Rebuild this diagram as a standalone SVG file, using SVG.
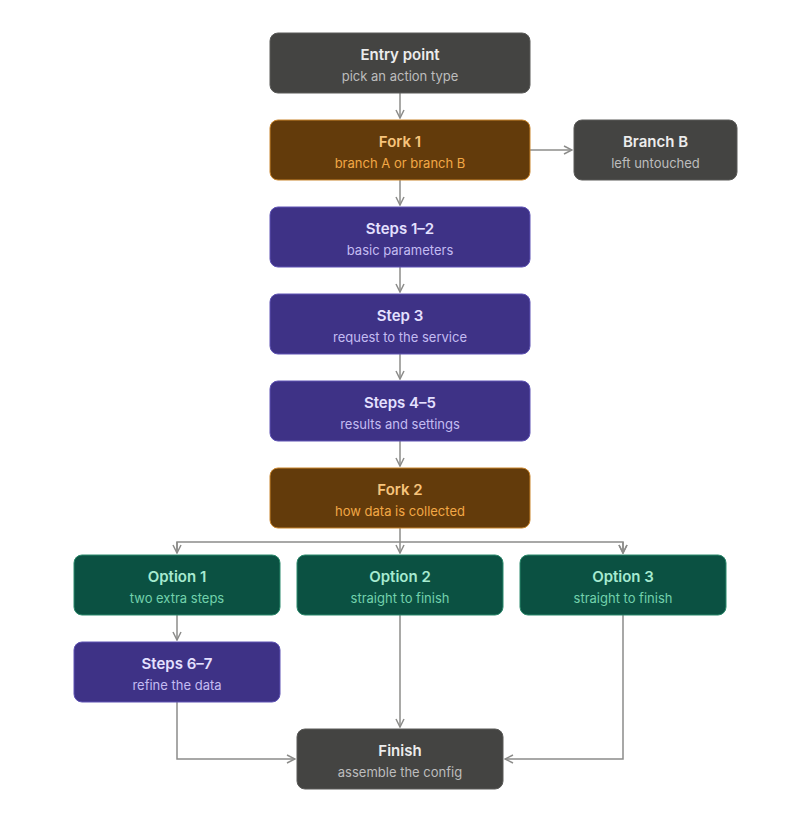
<svg xmlns="http://www.w3.org/2000/svg" width="800" height="815" viewBox="0 0 800 815">
<style>
text{font-family:Inter,"Noto Sans",sans-serif;text-anchor:middle}
.t{font-size:15px;font-weight:600}
.s{font-size:13px}
.g rect{fill:#444442;stroke:#5a5a58}
.g .t{fill:#ececec}.g .s{fill:#bdbdbd}
.f rect{fill:#633b0b;stroke:#c9852c}
.f .t{fill:#f7c47c}.f .s{fill:#f2a846}
.p rect{fill:#3e3286;stroke:#5e52b4}
.p .t{fill:#e4e0ff}.p .s{fill:#c4bcf2}
.e rect{fill:#0b5142;stroke:#2b8a6c}
.e .t{fill:#a6ead0}.e .s{fill:#72d2ac}
#c path{fill:none;stroke:#8c8c8a;stroke-width:1.5}
</style>
<defs><marker id="a" viewBox="0 0 10 10" refX="9" refY="5" markerWidth="10" markerHeight="10" markerUnits="userSpaceOnUse" orient="auto"><path d="M1,1 L9,5 L1,9" fill="none" stroke="#8c8c8a" stroke-width="1.5"/></marker></defs>
<g id="c">
<path d="M400,93V118" marker-end="url(#a)"/>
<path d="M530,150H572" marker-end="url(#a)"/>
<path d="M400,180V205" marker-end="url(#a)"/>
<path d="M400,267V292" marker-end="url(#a)"/>
<path d="M400,354V379" marker-end="url(#a)"/>
<path d="M400,441V466" marker-end="url(#a)"/>
<path d="M400,528V553" marker-end="url(#a)"/>
<path d="M177,553V542H623V553" marker-end="url(#a)"/>
<path d="M177,542V553" marker-end="url(#a)"/>
<path d="M623,542V553" marker-end="url(#a)"/>
<path d="M177,615V640" marker-end="url(#a)"/>
<path d="M400,615V727" marker-end="url(#a)"/>
<path d="M177,702V759H295" marker-end="url(#a)"/>
<path d="M623,615V759H505" marker-end="url(#a)"/>
</g>
<g id="entry" class="g"><rect x="270" y="33" width="260" height="60" rx="8"/><text class="t" x="400" y="60">Entry point</text><text class="s" x="400" y="81">pick an action type</text></g>
<g id="fork1" class="f"><rect x="270" y="120" width="260" height="60" rx="8"/><text class="t" x="400" y="147">Fork 1</text><text class="s" x="400" y="168">branch A or branch B</text></g>
<g id="branchb" class="g"><rect x="574" y="120" width="163" height="60" rx="8"/><text class="t" x="655.500" y="147">Branch B</text><text class="s" x="655.500" y="168">left untouched</text></g>
<g id="steps12" class="p"><rect x="270" y="207" width="260" height="60" rx="8"/><text class="t" x="400" y="234">Steps 1–2</text><text class="s" x="400" y="255">basic parameters</text></g>
<g id="step3" class="p"><rect x="270" y="294" width="260" height="60" rx="8"/><text class="t" x="400" y="321">Step 3</text><text class="s" x="400" y="342">request to the service</text></g>
<g id="steps45" class="p"><rect x="270" y="381" width="260" height="60" rx="8"/><text class="t" x="400" y="408">Steps 4–5</text><text class="s" x="400" y="429">results and settings</text></g>
<g id="fork2" class="f"><rect x="270" y="468" width="260" height="60" rx="8"/><text class="t" x="400" y="495">Fork 2</text><text class="s" x="400" y="516">how data is collected</text></g>
<g id="opt1" class="e"><rect x="74" y="555" width="206" height="60" rx="8"/><text class="t" x="177" y="582">Option 1</text><text class="s" x="177" y="603">two extra steps</text></g>
<g id="opt2" class="e"><rect x="297" y="555" width="206" height="60" rx="8"/><text class="t" x="400" y="582">Option 2</text><text class="s" x="400" y="603">straight to finish</text></g>
<g id="opt3" class="e"><rect x="520" y="555" width="206" height="60" rx="8"/><text class="t" x="623" y="582">Option 3</text><text class="s" x="623" y="603">straight to finish</text></g>
<g id="steps67" class="p"><rect x="74" y="642" width="206" height="60" rx="8"/><text class="t" x="177" y="669">Steps 6–7</text><text class="s" x="177" y="690">refine the data</text></g>
<g id="finish" class="g"><rect x="297" y="729" width="206" height="60" rx="8"/><text class="t" x="400" y="756">Finish</text><text class="s" x="400" y="777">assemble the config</text></g>
</svg>
